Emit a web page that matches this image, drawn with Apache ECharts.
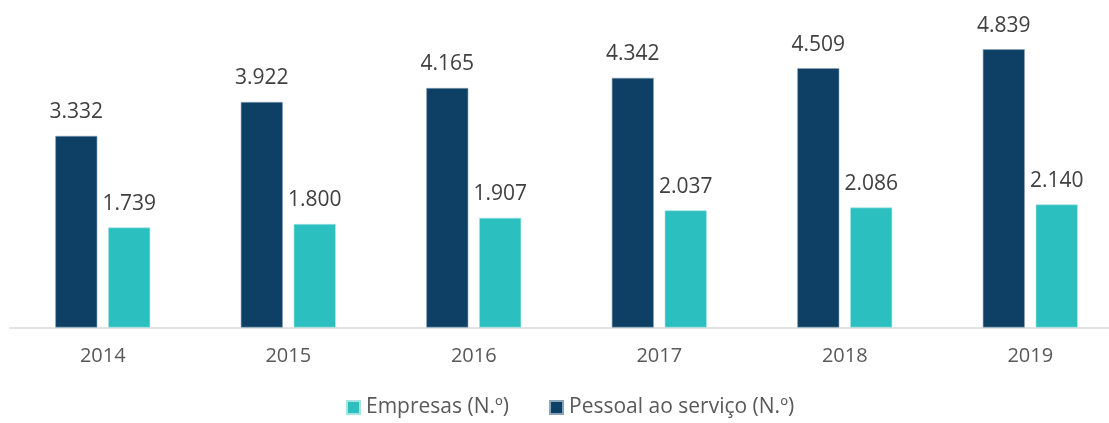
<!DOCTYPE html>
<html>
<head>
<meta charset="utf-8">
<script src="https://cdn.jsdelivr.net/npm/echarts@6/dist/echarts.min.js"></script>
<style>
  html, body { margin: 0; padding: 0; background: #fff; overflow: hidden; }
  #chart { width: 1109px; height: 423px; }
</style>
</head>
<body>
<div id="chart"></div>
<script>
const years = ['2014', '2015', '2016', '2017', '2018', '2019']
const pessoal = [3332, 3922, 4165, 4342, 4509, 4839]
const empresas = [1739, 1800, 1907, 2037, 2086, 2140]

const fmt = (v) => String(v).replace(/\B(?=(\d{3})+(?!\d))/g, '.')

let chart = echarts.init(document.getElementById('chart'))

let labelStyle = {
  show: true,
  position: 'top',
  distance: 13,
  color: '#404040',
  fontSize: 21,
  fontFamily: 'Open Sans',
  formatter: (p) => fmt(p.value),
}

let option = {
  animation: false,
  grid: {
    left: 10,
    right: -14,
    top: 40,
    bottom: 95.5,
    outerBoundsMode: 'none',
  },
  legend: {
    data: ['Empresas (N.º)', 'Pessoal ao serviço (N.º)'],
    bottom: 0,
    left: 341,
    itemWidth: 13,
    itemHeight: 13,
    itemGap: 40,
    icon: 'rect',
    textStyle: { color: '#595959', fontSize: 21, fontFamily: 'Open Sans', padding: [0, 0, 0, 1] },
  },
  xAxis: {
    type: 'category',
    data: years,
    axisTick: { show: false },
    axisLine: { lineStyle: { color: '#d9d9d9', width: 1.5 } },
    axisLabel: {
      color: '#595959',
      fontSize: 20,
      fontFamily: 'Open Sans',
      margin: 19,
    },
  },
  yAxis: {
    type: 'value',
    min: 0,
    max: 5000,
    splitLine: { show: false },
    axisLine: { show: false },
    axisTick: { show: false },
    axisLabel: { show: false },
  },
  series: [
    {
      name: 'Pessoal ao serviço (N.º)',
      type: 'bar',
      data: pessoal,
      barWidth: 42,
      barGap: '26%',
      itemStyle: { color: '#0e4065', borderColor: '#8aa3b8', borderWidth: 0.6 },
      label: labelStyle,
    },
    {
      name: 'Empresas (N.º)',
      type: 'bar',
      data: empresas,
      barWidth: 42,
      itemStyle: { color: '#2bbfbf', borderColor: '#a6e3e3', borderWidth: 0.6 },
      label: labelStyle,
    },
  ],
}

chart.setOption(option)
</script>
</body>
</html>
